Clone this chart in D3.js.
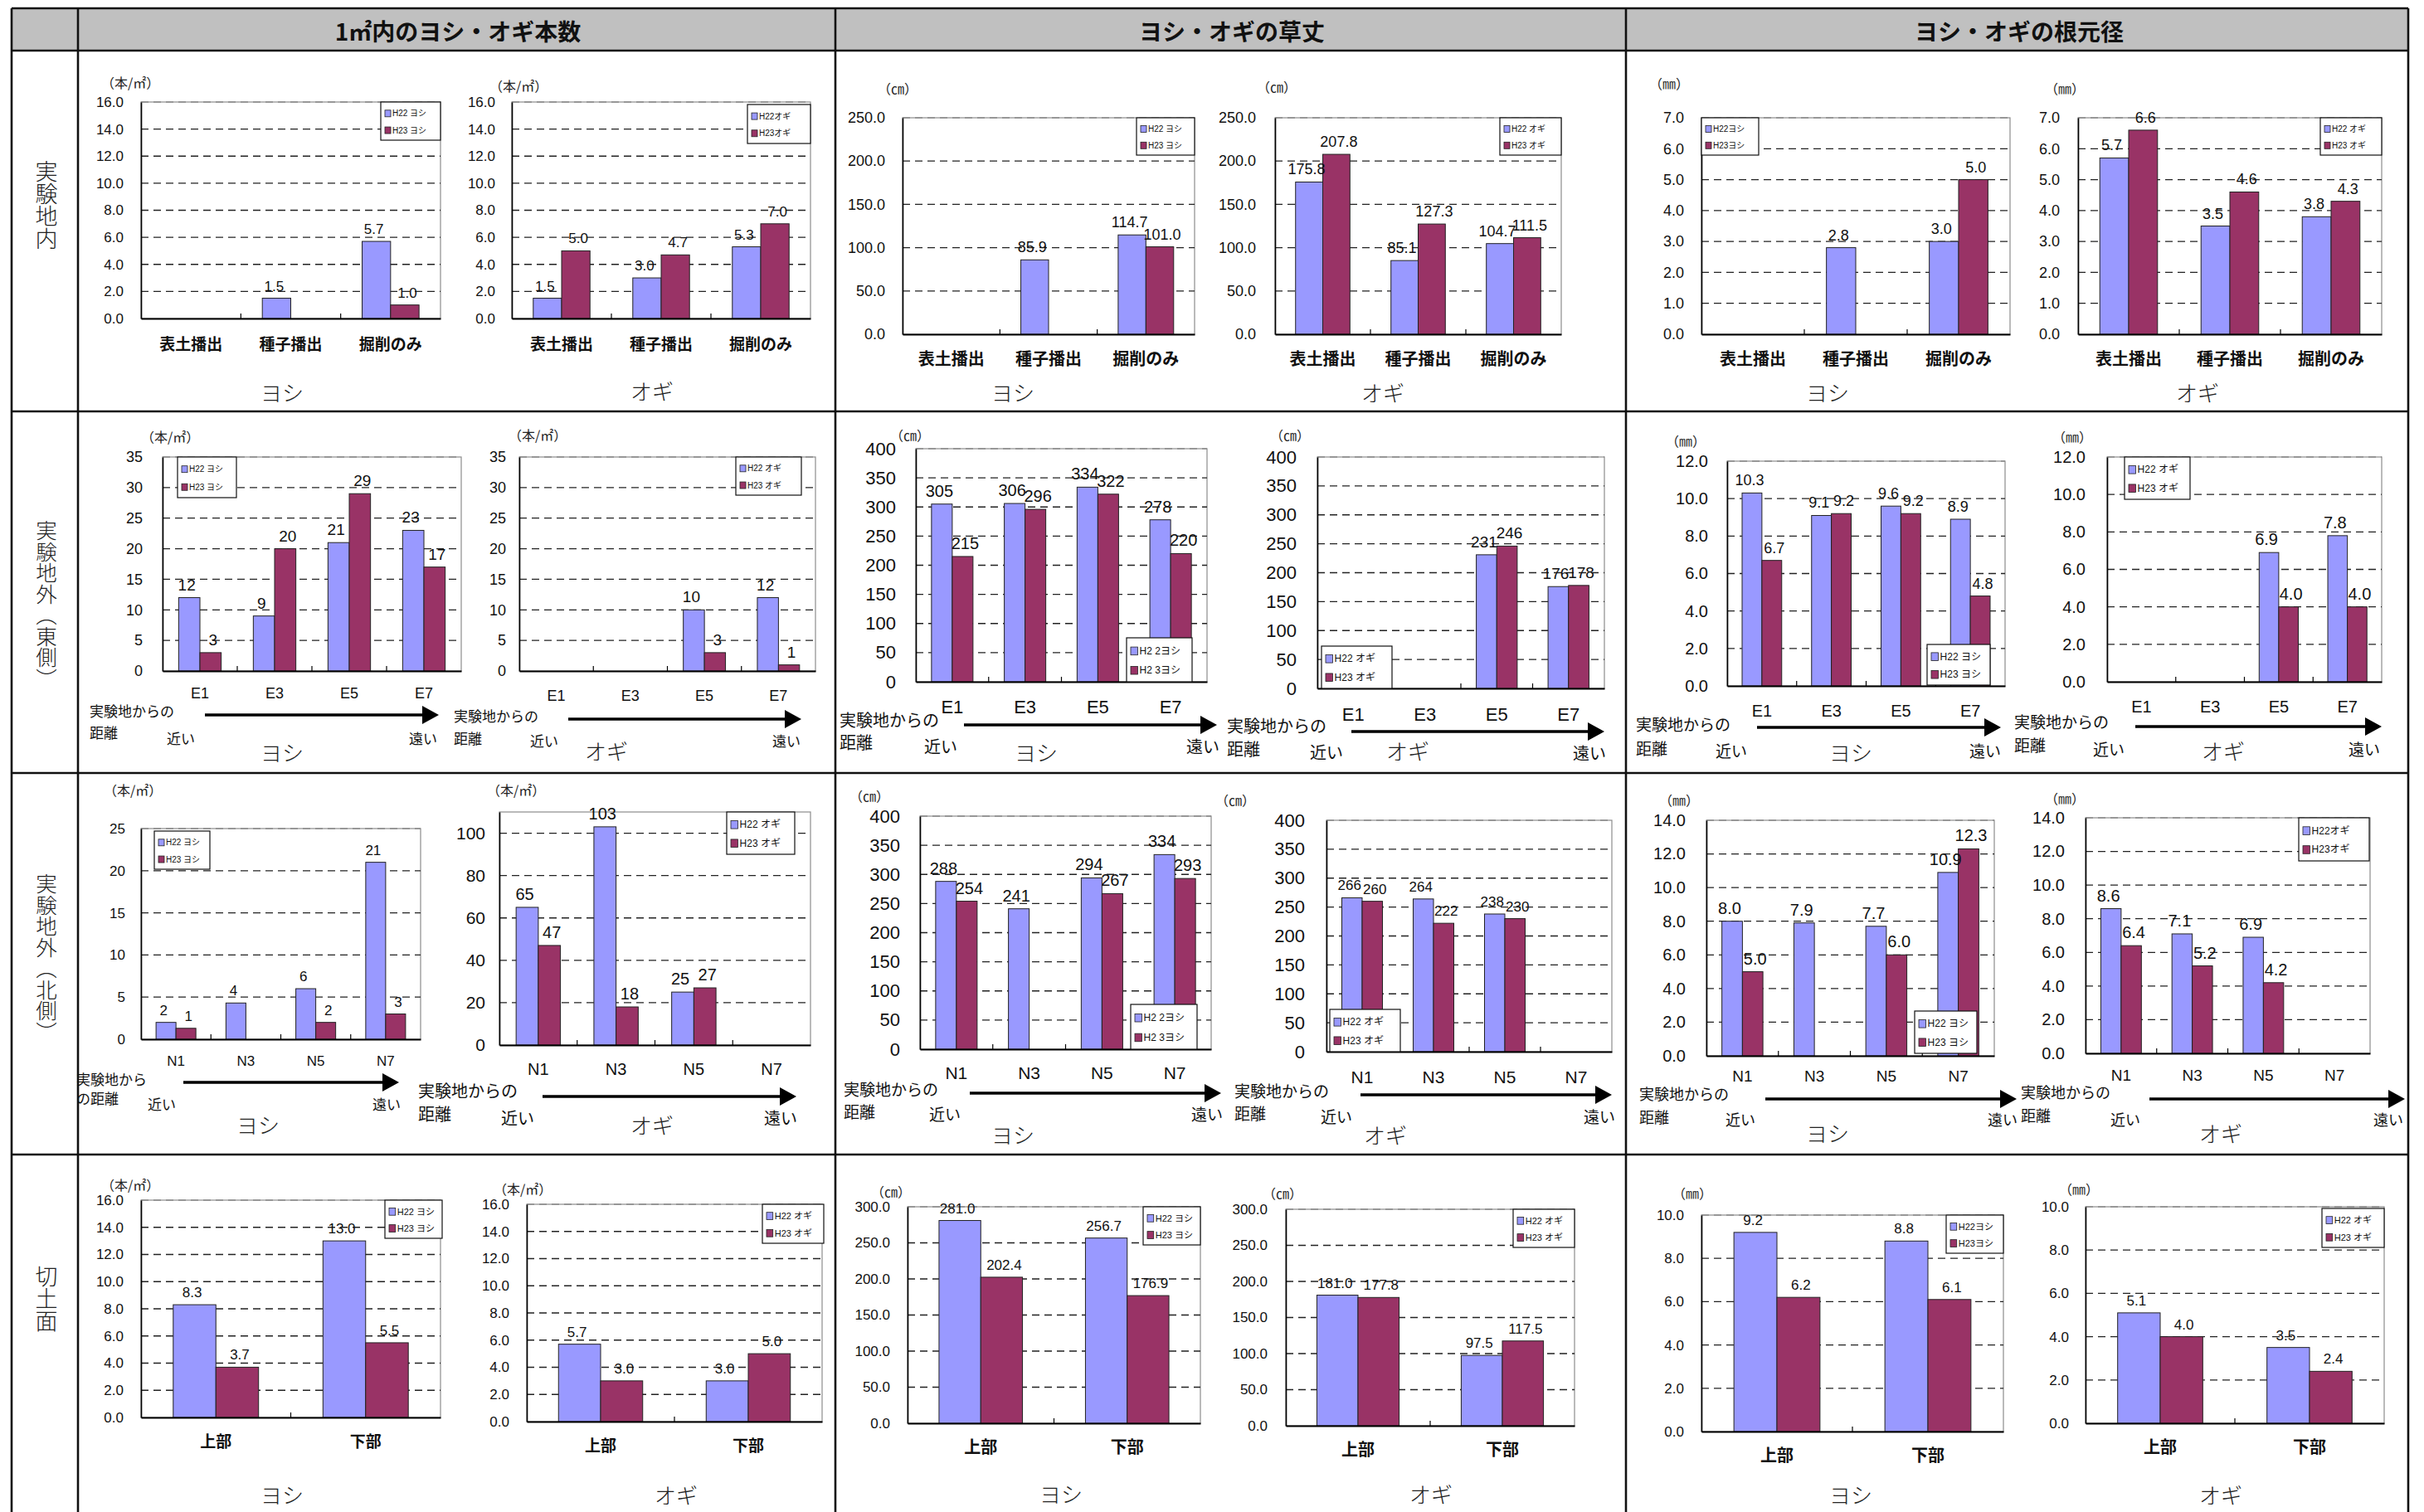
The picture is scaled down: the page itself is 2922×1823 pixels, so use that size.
<!DOCTYPE html>
<html><head><meta charset="utf-8">
<script src="https://cdn.jsdelivr.net/npm/d3@7"></script>
<style>body{margin:0;background:#fff}svg{display:block}</style>
</head><body>
<svg id="c" width="2922" height="1823"></svg>
<script>
// ================= DATA =================
const colTitles = ["1㎡内のヨシ・オギ本数", "ヨシ・オギの草丈", "ヨシ・オギの根元径"];
const rowTitles = ["実験地内", "実験地外（東側）", "実験地外（北側）", "切土面"];
const speciesNames = ["ヨシ", "オギ"];
const catsTreat = ["表土播出", "種子播出", "掘削のみ"];
const catsEast = ["E1", "E3", "E5", "E7"];
const catsNorth = ["N1", "N3", "N5", "N7"];
const catsSlope = ["上部", "下部"];
const unitCount = "（本/㎡）", unitHeight = "（㎝）", unitDiam = "（㎜）";
const distText = ["実験地からの", "距離"], distTextAlt = ["実験地から", "の距離"];
const nearText = "近い", farText = "遠い";

const legYoshi = ["H22 ヨシ", "H23 ヨシ"], legYoshiT = ["H22ヨシ", "H23ヨシ"], legYoshiS = ["H2 2ヨシ", "H2 3ヨシ"];
const legOgi = ["H22 オギ", "H23 オギ"], legOgiT = ["H22オギ", "H23オギ"];

// y-axis tick values
const yt16 = [0, 2, 4, 6, 8, 10, 12, 14, 16];
const yt250 = [0, 50, 100, 150, 200, 250];
const yt7 = [0, 1, 2, 3, 4, 5, 6, 7];
const yt35 = [0, 5, 10, 15, 20, 25, 30, 35];
const yt400 = [0, 50, 100, 150, 200, 250, 300, 350, 400];
const yt12 = [0, 2, 4, 6, 8, 10, 12];
const yt25 = [0, 5, 10, 15, 20, 25];
const yt100 = [0, 20, 40, 60, 80, 100];
const yt14 = [0, 2, 4, 6, 8, 10, 12, 14];
const yt300 = [0, 50, 100, 150, 200, 250, 300];
const yt10 = [0, 2, 4, 6, 8, 10];

// Row 1: inside the experiment site
const inCountYoshiH22 = [null, 1.5, 5.7], inCountYoshiH23 = [null, null, 1.0];
const inCountOgiH22 = [1.5, 3.0, 5.3], inCountOgiH23 = [5.0, 4.7, 7.0];
const inHeightYoshiH22 = [null, 85.9, 114.7], inHeightYoshiH23 = [null, null, 101.0];
const inHeightOgiH22 = [175.8, 85.1, 104.7], inHeightOgiH23 = [207.8, 127.3, 111.5];
const inDiamYoshiH22 = [null, 2.8, 3.0], inDiamYoshiH23 = [null, null, 5.0];
const inDiamOgiH22 = [5.7, 3.5, 3.8], inDiamOgiH23 = [6.6, 4.6, 4.3];
// Row 2: outside (east)
const eCountYoshiH22 = [12, 9, 21, 23], eCountYoshiH23 = [3, 20, 29, 17];
const eCountOgiH22 = [null, null, 10, 12], eCountOgiH23 = [null, null, 3, 1];
const eHeightYoshiH22 = [305, 306, 334, 278], eHeightYoshiH23 = [215, 296, 322, 220];
const eHeightOgiH22 = [null, null, 231, 176], eHeightOgiH23 = [null, null, 246, 178];
const eDiamYoshiH22 = [10.3, 9.1, 9.6, 8.9], eDiamYoshiH23 = [6.7, 9.2, 9.2, 4.8];
const eDiamOgiH22 = [null, null, 6.9, 7.8], eDiamOgiH23 = [null, null, 4.0, 4.0];
// Row 3: outside (north)
const nCountYoshiH22 = [2, 4.3, 6, 21], nCountYoshiH23 = [1.3, null, 2, 3];
const nCountOgiH22 = [65, 103, 25, null], nCountOgiH23 = [47, 18, 27, null];
const nHeightYoshiH22 = [288, 241, 294, 334], nHeightYoshiH23 = [254, null, 267, 293];
const nHeightOgiH22 = [266, 264, 238, null], nHeightOgiH23 = [260, 222, 230, null];
const nDiamYoshiH22 = [8.0, 7.9, 7.7, 10.9], nDiamYoshiH23 = [5.0, null, 6.0, 12.3];
const nDiamOgiH22 = [8.6, 7.1, 6.9, null], nDiamOgiH23 = [6.4, 5.2, 4.2, null];
// Row 4: cut slope
const sCountYoshiH22 = [8.3, 13.0], sCountYoshiH23 = [3.7, 5.5];
const sCountOgiH22 = [5.7, 3.0], sCountOgiH23 = [3.0, 5.0];
const sHeightYoshiH22 = [281.0, 256.7], sHeightYoshiH23 = [202.4, 176.9];
const sHeightOgiH22 = [181.0, 97.5], sHeightOgiH23 = [177.8, 117.5];
const sDiamYoshiH22 = [9.2, 8.8], sDiamYoshiH23 = [6.2, 6.1];
const sDiamOgiH22 = [5.1, 3.5], sDiamOgiH23 = [4.0, 2.4];

// ================= LAYOUT / STYLE =================
const NUM = "'Liberation Sans Narrow','Liberation Sans','Noto Sans CJK JP',sans-serif";
const JP = "'Noto Sans CJK JP','Noto Sans',sans-serif";
const COL22 = "#9999ff", COL23 = "#993366";

function chart(cats, h22, h23, ticks, fmt, leg, unit, sp, L) {
  return Object.assign({cats, h22, h23, ticks, fmt, leg, unit, sp}, L);
}
const D = (t, a, t1, t2, n, fa, fs) => ({t, a, t1, t2, n, fa, fs});

const charts = [
  // row 1
  chart(catsTreat, inCountYoshiH22, inCountYoshiH23, yt16, ".1f", legYoshi, unitCount, 0,
    {p:[170,531,123,384], tr:149, u:[122,99], cy:415, s:[340,472], lg:[459,123,72,46], f:[17,17,19,10]}),
  chart(catsTreat, inCountOgiH22, inCountOgiH23, yt16, ".1f", legOgiT, unitCount, 1,
    {p:[617,977,123,384], tr:597, u:[590,103], cy:415, s:[786,470], lg:[901,126,76,47], f:[17,17,19,10]}),
  chart(catsTreat, inHeightYoshiH22, inHeightYoshiH23, yt250, ".1f", legYoshi, unitHeight, 0,
    {p:[1088,1440,142,403], tr:1067, u:[1058,106], cy:433, s:[1221,472], lg:[1370,142,70,45], f:[18,18,20,10]}),
  chart(catsTreat, inHeightOgiH22, inHeightOgiH23, yt250, ".1f", legOgi, unitHeight, 1,
    {p:[1537,1882,142,403], tr:1514, u:[1515,104], cy:433, s:[1667,472], lg:[1808,142,74,45], f:[18,18,20,10]}),
  chart(catsTreat, inDiamYoshiH22, inDiamYoshiH23, yt7, ".1f", legYoshiT, unitDiam, 0,
    {p:[2051,2423,142,403], tr:2030, u:[1988,100], cy:433, s:[2203,472], lg:[2051,142,69,45], f:[18,18,20,10]}),
  chart(catsTreat, inDiamOgiH22, inDiamOgiH23, yt7, ".1f", legOgi, unitDiam, 1,
    {p:[2505,2871,142,403], tr:2483, u:[2465,106], cy:433, s:[2649,472], lg:[2797,142,74,45], f:[18,18,20,10]}),
  // row 2
  chart(catsEast, eCountYoshiH22, eCountYoshiH23, yt35, ".0f", legYoshi, unitCount, 0,
    {p:[196,556,551,809], tr:172, u:[170,526], cy:836, s:[340,906], lg:[214,551,71,49], f:[18,19,18,10],
     d:D(distText,[247,529,862],[108,856],[108,882],[218,889],[510,889],17)}),
  chart(catsEast, eCountOgiH22, eCountOgiH23, yt35, ".0f", legOgi, unitCount, 1,
    {p:[626,983,551,809], tr:610, u:[613,524], cy:839, s:[731,904], lg:[887,551,79,46], f:[18,19,18,10],
     d:D(distText,[685,966,867],[547,862],[547,889],[656,892],[948,892],17)}),
  chart(catsEast, eHeightYoshiH22, eHeightYoshiH23, yt400, ".0f", legYoshiS, unitHeight, 0,
    {p:[1104,1455,541,822], tr:1080, u:[1073,524], cy:852, s:[1249,906], lg:[1358,769,79,53], f:[22,20,22,12],
     d:D(distText,[1162,1467,874],[1012,867],[1012,894],[1134,899],[1450,899],20)}),
  chart(catsEast, eHeightOgiH22, eHeightOgiH23, yt400, ".0f", legOgi, unitHeight, 1,
    {p:[1588,1934,551,830], tr:1563, u:[1531,524], cy:861, s:[1697,904], lg:[1593,779,85,51], f:[22,19,22,12],
     d:D(distText,[1629,1934,882],[1479,874],[1479,902],[1599,906],[1916,907],20)}),
  chart(catsEast, eDiamYoshiH22, eDiamYoshiH23, yt12, ".1f", legYoshi, unitDiam, 0,
    {p:[2082,2417,556,827], tr:2059, u:[2008,531], cy:857, s:[2231,906], lg:[2323,777,76,49], f:[20,18,20,12],
     d:D(distText,[2118,2412,877],[1972,872],[1972,901],[2087,904],[2393,904],19)}),
  chart(catsEast, eDiamOgiH22, eDiamOgiH23, yt12, ".1f", legOgi, unitDiam, 1,
    {p:[2540,2871,551,822], tr:2514, u:[2474,526], cy:852, s:[2680,904], lg:[2561,551,79,51], f:[20,20,20,12],
     d:D(distText,[2574,2871,876],[2428,869],[2428,897],[2542,902],[2850,902],19)}),
  // row 3
  chart(catsNorth, nCountYoshiH22, nCountYoshiH23, yt25, ".0f", legYoshi, unitCount, 0,
    {p:[170,507,999,1253], tr:151, u:[125,952], cy:1279, s:[311,1355], lg:[186,1002,67,46], f:[17,17,17,10],
     d:D(distTextAlt,[221,481,1305],[92,1300],[92,1323],[195,1330],[466,1330],17)}),
  chart(catsNorth, nCountOgiH22, nCountOgiH23, yt100, ".0f", legOgi, unitCount, 1,
    {p:[602,977,979,1260], ymax:110, tr:585, u:[587,952], cy:1289, s:[786,1355], lg:[876,979,82,51], f:[21,20,20,12],
     d:D(distText,[654,960,1322],[504,1314],[504,1342],[624,1347],[941,1347],20)}),
  chart(catsNorth, nHeightYoshiH22, nHeightYoshiH23, yt400, ".0f", legYoshiS, unitHeight, 0,
    {p:[1109,1460,984,1265], tr:1085, u:[1024,959], cy:1294, s:[1221,1367], lg:[1363,1211,80,54], f:[22,20,21,12],
     d:D(distText,[1169,1472,1318],[1017,1312],[1017,1339],[1139,1342],[1455,1342],19)}),
  chart(catsNorth, nHeightOgiH22, nHeightOgiH23, yt400, ".0f", legOgi, unitHeight, 1,
    {p:[1599,1943,989,1268], tr:1573, u:[1465,964], cy:1299, s:[1670,1367], lg:[1603,1217,85,51], f:[22,17,21,12],
     d:D(distText,[1640,1943,1320],[1488,1314],[1488,1341],[1611,1345],[1928,1345],19)}),
  chart(catsNorth, nDiamYoshiH22, nDiamYoshiH23, yt14, ".1f", legYoshi, unitDiam, 0,
    {p:[2057,2404,989,1273], tr:2032, u:[2000,964], cy:1297, s:[2203,1365], lg:[2308,1219,75,51], f:[20,20,19,12],
     d:D(distText,[2128,2431,1325],[1976,1318],[1976,1346],[2098,1349],[2414,1349],18)}),
  chart(catsNorth, nDiamOgiH22, nDiamOgiH23, yt14, ".1f", legOgiT, unitDiam, 1,
    {p:[2514,2857,986,1270], tr:2489, u:[2465,962], cy:1296, s:[2677,1365], lg:[2771,986,85,52], f:[20,20,19,12],
     d:D(distText,[2591,2899,1325],[2436,1316],[2436,1344],[2562,1349],[2879,1349],18)}),
  // row 4
  chart(catsSlope, sCountYoshiH22, sCountYoshiH23, yt16, ".1f", legYoshi, unitCount, 0,
    {p:[170,531,1447,1709], tr:149, u:[122,1428], cy:1738, s:[340,1801], lg:[464,1447,69,46], f:[17,17,19,11]}),
  chart(catsSlope, sCountOgiH22, sCountOgiH23, yt16, ".1f", legOgi, unitCount, 1,
    {p:[635,991,1452,1714], tr:614, u:[595,1433], cy:1743, s:[815,1801], lg:[919,1452,74,47], f:[17,17,19,11]}),
  chart(catsSlope, sHeightYoshiH22, sHeightYoshiH23, yt300, ".1f", legYoshi, unitHeight, 0,
    {p:[1094,1447,1455,1716], tr:1073, u:[1050,1436], cy:1745, s:[1279,1800], lg:[1378,1455,69,46], f:[17,17,20,11]}),
  chart(catsSlope, sHeightOgiH22, sHeightOgiH23, yt300, ".1f", legOgi, unitHeight, 1,
    {p:[1550,1898,1458,1719], tr:1528, u:[1522,1438], cy:1748, s:[1725,1800], lg:[1824,1458,74,46], f:[17,17,20,11]}),
  chart(catsSlope, sDiamYoshiH22, sDiamYoshiH23, yt10, ".1f", legYoshiT, unitDiam, 0,
    {p:[2051,2415,1465,1726], tr:2030, u:[2016,1438], cy:1755, s:[2231,1801], lg:[2346,1465,69,46], f:[17,17,20,11]}),
  chart(catsSlope, sDiamOgiH22, sDiamOgiH23, yt10, ".1f", legOgi, unitDiam, 1,
    {p:[2514,2874,1455,1716], tr:2494, u:[2482,1433], cy:1745, s:[2677,1801], lg:[2799,1457,75,47], f:[17,17,20,11]})
];

// ================= DRAW =================
const svg = d3.select("#c");
svg.append("rect").attr("width", 2922).attr("height", 1823).attr("fill", "#fff");

// table frame
const TX = [14, 94, 1007, 1960, 2903];
const TY = [10, 61, 496, 932, 1392];
svg.append("rect").attr("x", TX[0]).attr("y", TY[0]).attr("width", TX[4] - TX[0]).attr("height", TY[1] - TY[0]).attr("fill", "#c0c0c0");
const grid = svg.append("g").attr("stroke", "#111").attr("stroke-width", 2.6);
TY.forEach(y => grid.append("line").attr("x1", TX[0]).attr("x2", TX[4]).attr("y1", y).attr("y2", y));
TX.forEach(x => grid.append("line").attr("x1", x).attr("x2", x).attr("y1", TY[0]).attr("y2", 1823));

// column titles
const colCenters = [552, 1485, 2434];
colTitles.forEach((t, i) => svg.append("text").attr("x", colCenters[i]).attr("y", 37)
  .attr("text-anchor", "middle").attr("dominant-baseline", "central")
  .attr("font-family", JP).attr("font-size", 28).attr("font-weight", "bold").attr("fill", "#111").text(t));

// row titles (vertical)
const rowCenters = [247, 729, 1155, 1566];
const rowSizes = [27, 25.5, 25.5, 27];
rowTitles.forEach((t, i) => svg.append("text").attr("x", 56).attr("y", rowCenters[i])
  .attr("text-anchor", "middle").style("writing-mode", "vertical-rl")
  .attr("font-family", JP).attr("font-size", rowSizes[i]).attr("font-weight", 300).attr("fill", "#222").text(t));

function drawChart(c) {
  const g = svg.append("g");
  const [x0, x1, y0, y1] = c.p;
  const [fT, fL, fC, fG] = c.f;
  const ymax = c.ymax != null ? c.ymax : d3.max(c.ticks);
  const y = d3.scaleLinear().domain([0, ymax]).range([y1, y0]);
  const x = d3.scaleBand().domain(c.cats).range([x0, x1]).padding(0);
  const xs = d3.scaleBand().domain(["H22", "H23"]).range([x.bandwidth() * 0.215, x.bandwidth() * 0.785]).padding(0);
  const fmt = d3.format(c.fmt);

  // plot area
  g.append("rect").attr("x", x0).attr("y", y0).attr("width", x1 - x0).attr("height", y1 - y0)
    .attr("fill", "#fff").attr("stroke", "#8c8c8c").attr("stroke-width", 1.2);
  // gridlines
  g.selectAll("line.grid").data(c.ticks.filter(t => t > 0)).join("line").attr("class", "grid")
    .attr("x1", x0).attr("x2", x1).attr("y1", d => y(d)).attr("y2", d => y(d))
    .attr("stroke", d => d === ymax ? "#8c8c8c" : "#222").attr("stroke-width", 1.3).attr("stroke-dasharray", "9,6");

  // bars
  const series = [["H22", c.h22, COL22, -3], ["H23", c.h23, COL23, 3]];
  series.forEach(([k, vals, col]) => {
    const pts = c.cats.map((cat, i) => ({cat, v: vals[i]})).filter(d => d.v != null);
    g.selectAll(null).data(pts).join("rect")
      .attr("x", d => x(d.cat) + xs(k)).attr("y", d => y(d.v))
      .attr("width", xs.bandwidth()).attr("height", d => y(0) - y(d.v))
      .attr("fill", col).attr("stroke", "#222").attr("stroke-width", 1);
  });
  series.forEach(([k, vals, col, off]) => {
    const pts = c.cats.map((cat, i) => ({cat, v: vals[i]})).filter(d => d.v != null);
    g.selectAll(null).data(pts).join("text")
      .attr("x", d => x(d.cat) + xs(k) + xs.bandwidth() / 2 + off).attr("y", d => y(d.v) - 9)
      .attr("text-anchor", "middle").attr("font-family", NUM).attr("font-size", fL).attr("fill", "#111")
      .text(d => fmt(d.v));
  });

  // y axis
  const ya = g.append("g").attr("transform", `translate(${x0},0)`)
    .call(d3.axisLeft(y).tickValues(c.ticks).tickFormat(d3.format(c.fmt === ".0f" ? "d" : ".1f"))
      .tickSize(0).tickSizeOuter(0).tickPadding(x0 - c.tr));
  ya.select(".domain").attr("stroke", "#000").attr("stroke-width", 1.6);
  ya.selectAll("text").attr("font-family", NUM).attr("font-size", fT).attr("fill", "#111");

  // x axis
  const isJP = /[^\x00-\x7f]/.test(c.cats[0]);
  const xa = g.append("g").attr("transform", `translate(0,${y1})`)
    .call(d3.axisBottom(x).tickSize(0).tickSizeOuter(0).tickPadding(c.cy - y1 - 0.36 * fC));
  xa.select(".domain").attr("stroke", "#000").attr("stroke-width", 2);
  xa.selectAll("text").attr("font-family", isJP ? JP : NUM).attr("font-size", fC)
    .attr("font-weight", isJP ? "bold" : "normal").attr("fill", "#111");
  // interior category ticks
  g.selectAll(null).data(c.cats.slice(1)).join("line")
    .attr("x1", d => x(d)).attr("x2", d => x(d)).attr("y1", y1).attr("y2", y1 - 6)
    .attr("stroke", "#000").attr("stroke-width", 1.2);

  // legend
  const [lx, ly, lw, lh] = c.lg;
  const lg = g.append("g");
  lg.append("rect").attr("x", lx).attr("y", ly).attr("width", lw).attr("height", lh)
    .attr("fill", "#fff").attr("stroke", "#111").attr("stroke-width", 1.2);
  [COL22, COL23].forEach((col, i) => {
    const cy = ly + lh * (i === 0 ? 0.3 : 0.74);
    lg.append("rect").attr("x", lx + 5).attr("y", cy - fG * 0.4).attr("width", fG * 0.7).attr("height", fG * 0.8)
      .attr("fill", col).attr("stroke", "#222").attr("stroke-width", 0.8);
    lg.append("text").attr("x", lx + 6 + fG * 0.8).attr("y", cy).attr("dominant-baseline", "central")
      .attr("font-family", NUM).attr("font-size", fG).attr("fill", "#111").text(c.leg[i]);
  });

  // unit label
  g.append("text").attr("x", c.u[0]).attr("y", c.u[1]).attr("dominant-baseline", "central")
    .attr("font-family", JP).attr("font-size", 16).attr("fill", "#222").text(c.unit);

  // species label
  g.append("text").attr("x", c.s[0]).attr("y", c.s[1]).attr("text-anchor", "middle").attr("dominant-baseline", "central")
    .attr("font-family", JP).attr("font-size", 26).attr("font-weight", 300).attr("fill", "#222").text(speciesNames[c.sp]);

  // distance annotation
  if (c.d) {
    const d = c.d;
    const ag = g.append("g").attr("font-family", JP).attr("font-size", d.fs).attr("fill", "#111");
    ag.append("text").attr("x", d.t1[0]).attr("y", d.t1[1]).attr("dominant-baseline", "central").text(d.t[0]);
    ag.append("text").attr("x", d.t2[0]).attr("y", d.t2[1]).attr("dominant-baseline", "central").text(d.t[1]);
    ag.append("text").attr("x", d.n[0]).attr("y", d.n[1]).attr("text-anchor", "middle").attr("dominant-baseline", "central").text(nearText);
    ag.append("text").attr("x", d.fa[0]).attr("y", d.fa[1]).attr("text-anchor", "middle").attr("dominant-baseline", "central").text(farText);
    const [ax0, ax1, ay] = d.a;
    ag.append("line").attr("x1", ax0).attr("x2", ax1 - 16).attr("y1", ay).attr("y2", ay)
      .attr("stroke", "#000").attr("stroke-width", 3.5);
    ag.append("path").attr("d", `M${ax1 - 20},${ay - 11}L${ax1},${ay}L${ax1 - 20},${ay + 11}Z`).attr("fill", "#000");
  }
}
charts.forEach(drawChart);
</script>
</body></html>
